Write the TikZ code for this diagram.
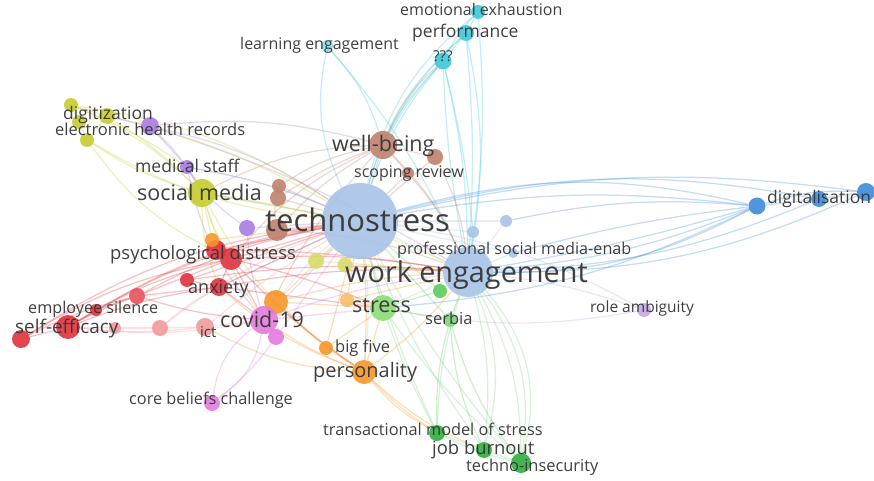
\documentclass[tikz,border=0pt]{standalone}
\usepackage{fontspec}
\setmainfont{Open Sans}
\definecolor{cyc}{HTML}{3CC8DA}
\definecolor{brc}{HTML}{C0806E}
\definecolor{lbc}{HTML}{A8C3E6}
\definecolor{blc}{HTML}{3C8BDA}
\definecolor{puc}{HTML}{A77BE2}
\definecolor{lpc}{HTML}{C5A9E2}
\definecolor{olc}{HTML}{C6CC2C}
\definecolor{rdc}{HTML}{E0323C}
\definecolor{sac}{HTML}{F09A9A}
\definecolor{orc}{HTML}{F5962A}
\definecolor{lor}{HTML}{F8BE6A}
\definecolor{pkc}{HTML}{E27BDC}
\definecolor{lgc}{HTML}{8CDC78}
\definecolor{grc}{HTML}{5ACB5A}
\definecolor{dgc}{HTML}{2EAF3C}
\definecolor{txc}{HTML}{353535}
\pgfdeclarelayer{edges}
\pgfsetlayers{edges,main}
\tikzset{
  kw/.style={circle, inner sep=0pt, minimum size=#1, fill opacity=0.9, draw=none},
  lbl/.style={anchor=base west, inner sep=0pt, text=txc, text opacity=0.95, font=\fontsize{#1}{#1}\selectfont},
  ln/.style={draw=#1, line width=1.25pt, draw opacity=0.3},
}
\begin{document}
\begin{tikzpicture}[x=1pt,y=-1pt]
\useasboundingbox (0,0) rectangle (874,481);
% ---------- nodes ----------
% cyan
\node[kw=14, fill=cyc] (ee) at (478,12) {};
\node[kw=16, fill=cyc] (perf) at (466,33) {};
\node[kw=17, fill=cyc] (qqq) at (443,61) {};
\node[kw=12, fill=cyc!60] (le) at (327,46) {};
% brown
\node[kw=28, fill=brc] (wb) at (383,145) {};
\node[kw=16, fill=brc] (b1) at (435,157) {};
\node[kw=12, fill=brc] (sr) at (408,173) {};
\node[kw=14, fill=brc] (b2) at (279,186) {};
\node[kw=16, fill=brc] (b3) at (278,198) {};
\node[kw=22, fill=brc] (b4) at (277,230) {};
% light blue
\node[kw=76, fill=lbc] (ts) at (360,221) {};
\node[kw=50, fill=lbc] (we) at (468,272) {};
\node[kw=12, fill=lbc] (lb1) at (506,221) {};
\node[kw=12, fill=lbc] (lb2) at (473,232) {};
\node[kw=10, fill=lbc] (psm) at (513,253) {};
% blue
\node[kw=17, fill=blc] (dg1) at (757,206) {};
\node[kw=16, fill=blc] (dg2) at (819,199) {};
\node[kw=18, fill=blc] (dg3) at (866,192) {};
% purple
\node[kw=18, fill=puc] (ehr) at (150,126) {};
\node[kw=14, fill=puc] (ms) at (187,167) {};
\node[kw=16, fill=puc] (pu1) at (247,228) {};
\node[kw=14, fill=lpc] (ra) at (644,310) {};
% olive
\node[kw=14, fill=olc] (y1) at (71,105) {};
\node[kw=16, fill=olc] (y2) at (107,116) {};
\node[kw=14, fill=olc] (y3) at (79,122) {};
\node[kw=14, fill=olc] (y4) at (87,140) {};
\node[kw=28, fill=olc] (sm) at (202,193) {};
\node[kw=16, fill=olc!70] (y5) at (316,261) {};
\node[kw=15, fill=olc!70] (y6) at (345,265) {};
% red
\node[kw=20, fill=rdc] (r2) at (216,250) {};
\node[kw=22, fill=rdc] (pd) at (231,259) {};
\node[kw=14, fill=rdc] (r3) at (187,280) {};
\node[kw=18, fill=rdc] (anx) at (219,287) {};
\node[kw=16, fill=rdc!85] (r5) at (137,296) {};
\node[kw=12, fill=rdc] (es) at (96,310) {};
\node[kw=24, fill=rdc] (se) at (68,327) {};
\node[kw=18, fill=rdc] (r8) at (21,339) {};
\node[kw=12, fill=sac] (s1) at (115,328) {};
\node[kw=16, fill=sac] (s2) at (160,328) {};
\node[kw=18, fill=sac] (ict) at (205,327) {};
% orange
\node[kw=14, fill=orc] (o1) at (212,240) {};
\node[kw=24, fill=orc] (o2) at (276,302) {};
\node[kw=14, fill=lor] (o3) at (347,300) {};
\node[kw=14, fill=orc] (bf) at (326,348) {};
\node[kw=24, fill=orc] (pers) at (364,372) {};
% pink
\node[kw=28, fill=pkc] (cov) at (264,320) {};
\node[kw=16, fill=pkc] (p2) at (276,337) {};
\node[kw=16, fill=pkc] (cbc) at (212,403) {};
% green
\node[kw=26, fill=lgc] (st) at (383,308) {};
\node[kw=14, fill=grc] (g2) at (440,291) {};
\node[kw=14, fill=grc!80] (serb) at (450,320) {};
\node[kw=16, fill=dgc] (tms) at (437,433) {};
\node[kw=16, fill=dgc] (jb) at (484,450) {};
\node[kw=20, fill=dgc] (ti) at (521,463) {};
% ---------- labels ----------
\node[lbl=16] (l-ee) at (400,16) {emotional exhaustion};
\node[lbl=17.5] (l-perf) at (412,38) {performance};
\node[lbl=15] (l-qqq) at (433,62) {???};
\node[lbl=16] (l-le) at (240,50) {learning engagement};
\node[lbl=21.5] (l-wb) at (332,152) {well-being};
\node[lbl=16] (l-sr) at (354,178) {scoping review};
\node[lbl=17.5] (l-dgz) at (63,120) {digitization};
\node[lbl=16.5] (l-ehr) at (55,136) {electronic health records};
\node[lbl=17.5] (l-ms) at (135,172) {medical staff};
\node[lbl=21.5] (l-sm) at (137,200) {social media};
\node[lbl=31] (l-ts) at (265,231) {technostress};
\node[lbl=16.2] (l-psm) at (397,254) {professional social media-enab};
\node[lbl=18.4] (l-pd) at (110,259) {psychological distress};
\node[lbl=28.8] (l-we) at (345,282) {work engagement};
\node[lbl=18] (l-anx) at (188,293) {anxiety};
\node[lbl=21.5] (l-st) at (352,312) {stress};
\node[lbl=15.5] (l-ra) at (590,312) {role ambiguity};
\node[lbl=16.2] (l-es) at (28,313) {employee silence};
\node[lbl=16.5] (l-serb) at (425,324) {serbia};
\node[lbl=18.9] (l-se) at (15,333) {self-efficacy};
\node[lbl=21.5] (l-cov) at (220,327) {covid-19};
\node[lbl=15] (l-ict) at (200,337) {ict};
\node[lbl=16.5] (l-bf) at (335,352) {big five};
\node[lbl=20] (l-pers) at (313,377) {personality};
\node[lbl=16.3] (l-cbc) at (129,404) {core beliefs challenge};
\node[lbl=16.3] (l-tms) at (323,435) {transactional model of stress};
\node[lbl=18.4] (l-jb) at (432,454) {job burnout};
\node[lbl=16.4] (l-ti) at (466,471) {techno-insecurity};
\node[lbl=17.5] (l-dgl) at (767,203) {digitalisation};
% ---------- edges ----------
\begin{pgfonlayer}{edges}
% cyan
\draw[ln=cyc] (le) to[bend right=18] (ts);
\draw[ln=cyc] (le) to[bend left=12] (wb);
\draw[ln=cyc] (le) to[bend left=8] (we);
\draw[ln=cyc] (qqq) to[bend right=14] (ts);
\draw[ln=cyc] (qqq) to[bend right=10] (ts);
\draw[ln=cyc] (qqq) to[bend right=6] (wb);
\draw[ln=cyc] (qqq) to[bend left=6] (we);
\draw[ln=cyc] (qqq) to[bend right=4] (we);
\draw[ln=cyc] (qqq) to[bend left=4] (lb2);
\draw[ln=cyc] (perf) to[bend right=16] (ts);
\draw[ln=cyc] (perf) to[bend left=4] (we);
\draw[ln=cyc] (perf) to[bend right=10] (wb);
\draw[ln=cyc] (perf) to[bend left=10] (we);
\draw[ln=cyc] (ee) to[bend right=18] (ts);
\draw[ln=cyc] (ee) to[bend left=6] (we);
\draw[ln=cyc] (ee) -- (perf);
\draw[ln=cyc] (perf) -- (qqq);
\draw[ln=cyc] (ee) to[bend right=8] (qqq);
% brown
\draw[ln=brc] (wb) -- (ts);
\draw[ln=brc] (wb) -- (b1);
\draw[ln=brc] (wb) -- (sr);
\draw[ln=brc] (wb) to[bend right=10] (b2);
\draw[ln=brc] (wb) to[bend right=6] (b3);
\draw[ln=brc] (wb) to[bend right=8] (b4);
\draw[ln=brc] (wb) to[bend left=12] (qqq);
\draw[ln=brc] (wb) to[bend left=10] (we);
\draw[ln=brc] (wb) to[bend right=12] (pd);
\draw[ln=brc] (wb) to[bend right=12] (sm);
\draw[ln=brc] (wb) to[bend right=8] (cov);
\draw[ln=brc] (b1) -- (ts);
\draw[ln=brc] (b1) to[bend left=10] (we);
\draw[ln=brc] (sr) -- (ts);
\draw[ln=brc] (sr) to[bend left=8] (we);
\draw[ln=brc] (b2) -- (ts);
\draw[ln=brc] (b3) -- (ts);
\draw[ln=brc] (b4) -- (ts);
\draw[ln=brc] (b4) to[bend left=8] (we);
\draw[ln=brc] (b2) to[bend right=10] (b4);
% light blue core
\draw[ln=lbc] (ts) -- (we);
\draw[ln=lbc] (ts) -- (lb1);
\draw[ln=lbc] (ts) -- (lb2);
\draw[ln=lbc] (ts) -- (psm);
\draw[ln=lbc] (we) -- (lb1);
\draw[ln=lbc] (we) -- (lb2);
\draw[ln=lbc] (we) -- (psm);
\draw[ln=lbc] (ts) to[bend right=8] (cov);
\draw[ln=lbc] (ts) to[bend left=6] (pers);
\draw[ln=lbc] (ts) -- (st);
\draw[ln=lbc] (ts) -- (anx);
\draw[ln=lbc] (ts) -- (sm);
\draw[ln=lbc] (ts) to[bend right=6] (ms);
% blue
\draw[ln=blc] (dg1) to[bend right=14] (ts);
\draw[ln=blc] (dg1) to[bend right=8] (ts);
\draw[ln=blc] (dg1) to[bend left=8] (we);
\draw[ln=blc] (dg1) to[bend left=14] (we);
\draw[ln=blc] (dg1) to[bend left=3] (we);
\draw[ln=blc] (dg1) to[bend right=4] (psm);
\draw[ln=blc] (dg1) to[bend right=8] (lb1);
\draw[ln=blc] (dg2) to[bend right=12] (ts);
\draw[ln=blc] (dg2) to[bend left=10] (we);
\draw[ln=blc] (dg3) to[bend right=10] (ts);
\draw[ln=blc] (dg3) to[bend left=12] (we);
\draw[ln=blc] (dg1) -- (dg2);
\draw[ln=blc] (dg2) -- (dg3);
\draw[ln=blc] (dg1) to[bend left=10] (dg3);
\draw[ln=blc] (dg1) to[bend left=10] (st);
% purple
\draw[ln=puc] (ehr) to[bend left=10] (ts);
\draw[ln=puc] (ehr) to[bend left=6] (we);
\draw[ln=puc] (ehr) -- (ms);
\draw[ln=puc] (ehr) -- (y2);
\draw[ln=puc] (ehr) to[bend left=8] (sm);
\draw[ln=puc] (ehr) to[bend left=10] (wb);
\draw[ln=puc] (ms) -- (sm);
\draw[ln=puc] (ms) to[bend left=6] (ts);
\draw[ln=puc] (ms) to[bend right=10] (pu1);
\draw[ln=puc] (ms) to[bend right=14] (cov);
\draw[ln=puc] (pu1) -- (ts);
\draw[ln=puc] (pu1) to[bend right=6] (cov);
\draw[ln=lpc] (ra) to[bend right=6] (we);
\draw[ln=lpc] (ra) to[bend right=10] (ts);
\draw[ln=lpc] (ra) to[bend left=10] (st);
% olive
\draw[ln=olc] (y1) -- (y2);
\draw[ln=olc] (y1) -- (y3);
\draw[ln=olc] (y2) -- (y4);
\draw[ln=olc] (y3) -- (y4);
\draw[ln=olc] (y2) -- (y3);
\draw[ln=olc] (y1) to[bend left=10] (sm);
\draw[ln=olc] (y2) to[bend left=6] (sm);
\draw[ln=olc] (y4) to[bend right=8] (sm);
\draw[ln=olc] (y4) to[bend right=12] (ts);
\draw[ln=olc] (y2) to[bend left=8] (ts);
\draw[ln=olc] (y1) to[bend left=12] (ts);
\draw[ln=olc] (y4) to[bend right=14] (pd);
\draw[ln=olc] (y1) to[bend left=6] (ms);
\draw[ln=olc] (sm) -- (ts);
\draw[ln=olc] (sm) to[bend right=6] (pd);
\draw[ln=olc] (sm) to[bend right=8] (cov);
\draw[ln=olc] (sm) to[bend right=10] (anx);
\draw[ln=olc] (sm) -- (o1);
\draw[ln=olc] (sm) to[bend left=8] (we);
\draw[ln=olc] (sm) to[bend right=14] (pers);
\draw[ln=olc] (y5) -- (ts);
\draw[ln=olc] (y5) -- (we);
\draw[ln=olc] (y6) -- (we);
\draw[ln=olc] (y6) -- (ts);
% red
\draw[ln=rdc] (pd) -- (ts);
\draw[ln=rdc] (pd) to[bend left=6] (we);
\draw[ln=rdc] (pd) -- (cov);
\draw[ln=rdc] (pd) -- (anx);
\draw[ln=rdc] (r2) -- (ts);
\draw[ln=rdc] (r2) to[bend left=4] (we);
\draw[ln=rdc] (anx) -- (ts);
\draw[ln=rdc] (anx) to[bend left=6] (we);
\draw[ln=rdc] (anx) -- (cov);
\draw[ln=rdc] (r3) -- (ts);
\draw[ln=rdc] (r3) -- (anx);
\draw[ln=rdc] (r3) to[bend left=6] (we);
\draw[ln=rdc] (r5) -- (pd);
\draw[ln=rdc] (r5) to[bend left=8] (ts);
\draw[ln=rdc] (r5) -- (anx);
\draw[ln=rdc] (r5) to[bend right=6] (cov);
\draw[ln=rdc] (es) -- (r5);
\draw[ln=rdc] (es) -- (se);
\draw[ln=rdc] (es) to[bend left=10] (ts);
\draw[ln=rdc] (se) -- (r8);
\draw[ln=rdc] (se) to[bend left=8] (pd);
\draw[ln=rdc] (se) to[bend left=10] (ts);
\draw[ln=rdc] (se) to[bend left=6] (anx);
\draw[ln=rdc] (se) to[bend left=4] (r5);
\draw[ln=rdc] (r8) to[bend left=10] (pd);
\draw[ln=rdc] (r8) to[bend left=6] (r5);
\draw[ln=rdc] (r8) to[bend left=12] (ts);
\draw[ln=sac] (se) -- (s1);
\draw[ln=sac] (s1) -- (s2);
\draw[ln=sac] (s2) -- (ict);
\draw[ln=sac] (ict) -- (cov);
\draw[ln=sac] (s2) to[bend left=8] (ts);
\draw[ln=sac] (ict) to[bend left=4] (ts);
\draw[ln=sac] (se) to[bend right=6] (ict);
\draw[ln=sac] (se) to[bend right=8] (cov);
\draw[ln=sac] (s2) to[bend left=6] (anx);
\draw[ln=rdc] (pd) to[bend left=4] (st);
\draw[ln=rdc] (anx) -- (st);
\draw[ln=rdc] (pd) to[bend right=6] (pers);
% orange
\draw[ln=orc] (o1) -- (ts);
\draw[ln=orc] (o1) -- (pd);
\draw[ln=orc] (o2) -- (ts);
\draw[ln=orc] (o2) to[bend left=6] (we);
\draw[ln=orc] (o2) -- (cov);
\draw[ln=orc] (o2) -- (st);
\draw[ln=orc] (o3) -- (ts);
\draw[ln=orc] (o3) -- (st);
\draw[ln=orc] (o3) -- (we);
\draw[ln=orc] (bf) -- (pers);
\draw[ln=orc] (bf) -- (ts);
\draw[ln=orc] (bf) -- (o2);
\draw[ln=orc] (bf) -- (st);
\draw[ln=orc] (pers) to[bend right=4] (ts);
\draw[ln=orc] (pers) to[bend right=6] (we);
\draw[ln=orc] (pers) -- (st);
\draw[ln=orc] (pers) to[bend right=10] (tms);
\draw[ln=orc] (pers) to[bend right=6] (tms);
\draw[ln=orc] (pers) to[bend right=10] (jb);
\draw[ln=orc] (pers) to[bend left=6] (cov);
\draw[ln=orc] (pers) to[bend left=10] (anx);
\draw[ln=orc] (pers) to[bend left=4] (o2);
\draw[ln=orc] (pers) to[bend left=12] (ict);
% pink
\draw[ln=pkc] (cov) to[bend left=22] (cbc);
\draw[ln=pkc] (cov) to[bend right=22] (cbc);
\draw[ln=pkc] (p2) to[bend left=8] (cbc);
\draw[ln=pkc] (cov) -- (ts);
\draw[ln=pkc] (cov) to[bend left=6] (we);
\draw[ln=pkc] (cov) -- (st);
\draw[ln=pkc] (p2) -- (ts);
\draw[ln=pkc] (cov) -- (p2);
% green
\draw[ln=lgc] (st) -- (ts);
\draw[ln=lgc] (st) -- (we);
\draw[ln=grc] (g2) -- (we);
\draw[ln=grc] (g2) -- (ts);
\draw[ln=grc] (g2) -- (st);
\draw[ln=grc] (serb) -- (we);
\draw[ln=grc] (serb) -- (ts);
\draw[ln=grc] (serb) -- (st);
\draw[ln=grc] (serb) to[bend right=8] (tms);
\draw[ln=grc] (serb) to[bend right=10] (jb);
\draw[ln=grc] (serb) to[bend right=10] (ti);
\draw[ln=dgc!60] (tms) to[bend left=8] (we);
\draw[ln=dgc!60] (tms) to[bend left=4] (ts);
\draw[ln=dgc!60] (jb) to[bend right=10] (we);
\draw[ln=dgc!60] (jb) to[bend right=18] (we);
\draw[ln=dgc!60] (jb) to[bend left=6] (ts);
\draw[ln=dgc!60] (ti) to[bend right=22] (we);
\draw[ln=dgc!60] (ti) to[bend right=28] (we);
\draw[ln=dgc!60] (ti) to[bend right=14] (we);
\draw[ln=dgc!60] (ti) to[bend left=6] (ts);
\draw[ln=dgc!60] (tms) -- (jb);
\draw[ln=dgc!60] (jb) -- (ti);
\draw[ln=dgc!60] (tms) to[bend right=6] (ti);
\draw[ln=dgc!60] (tms) to[bend left=4] (st);
\draw[ln=dgc!60] (ti) to[bend left=6] (st);
\end{pgfonlayer}
\end{tikzpicture}
\end{document}
